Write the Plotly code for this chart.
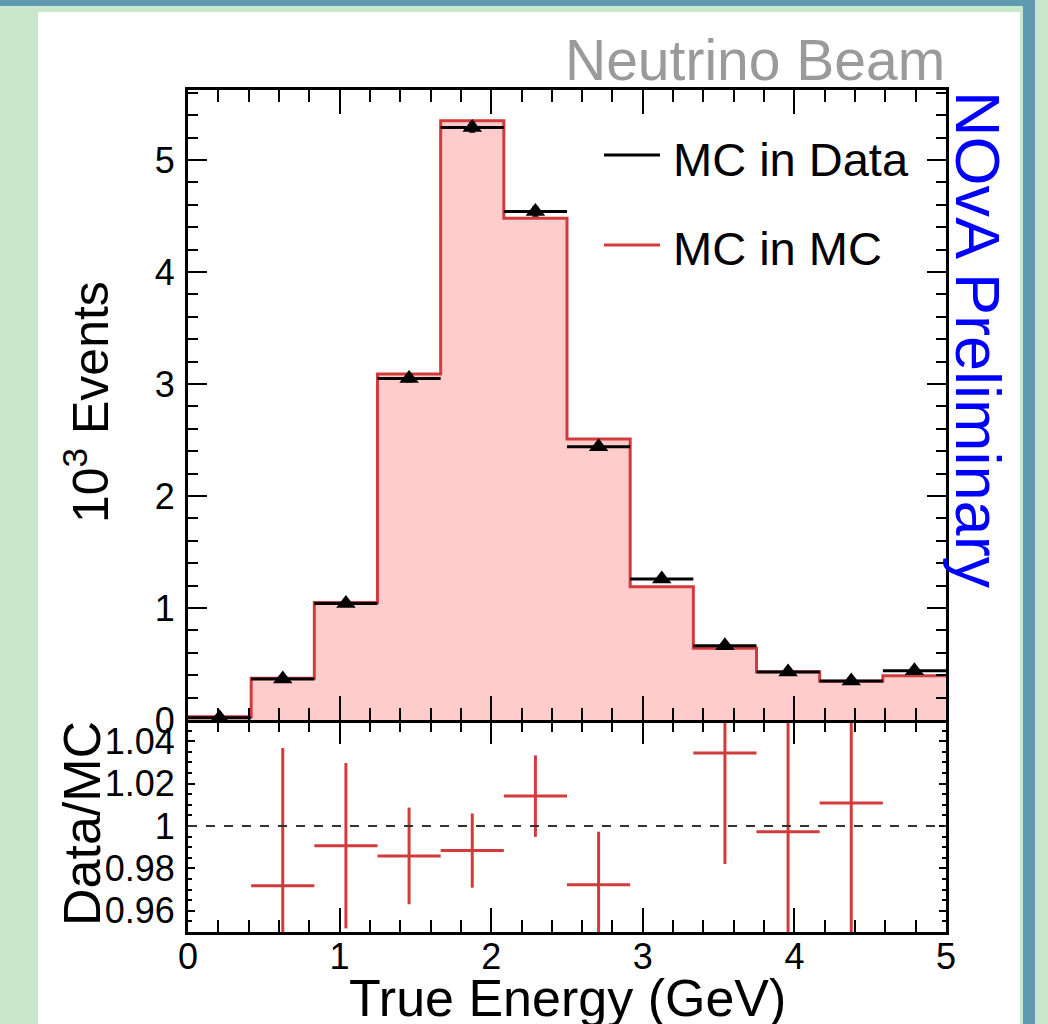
import plotly.graph_objects as go

# ---------------- data ----------------
bin_edges = [0.0, 0.4167, 0.8333, 1.25, 1.6667, 2.0833, 2.5, 2.9167,
             3.3333, 3.75, 4.1667, 4.5833, 5.0]
mc_in_mc = [0.03, 0.372, 1.05, 3.09, 5.35, 4.48, 2.51, 1.19, 0.64, 0.43, 0.345, 0.395]
mc_in_data = [0.02, 0.367, 1.04, 3.05, 5.29, 4.54, 2.44, 1.26, 0.662, 0.429, 0.349, 0.44]
mc_in_data_err = [0.01, 0.02, 0.025, 0.03, 0.04, 0.04, 0.03, 0.025, 0.02, 0.02, 0.02, 0.02]

ratio_x = [0.625, 1.0417, 1.4583, 1.875, 2.2917, 2.7083, 3.5417, 3.9583, 4.375]
ratio_val = [0.9718, 0.9907, 0.9859, 0.9884, 1.0141, 0.9723, 1.0344, 0.9973, 1.0109]
ratio_err = [0.065, 0.039, 0.0228, 0.0175, 0.0192, 0.025, 0.0523, 0.07, 0.075]

x_ticks = [0, 1, 2, 3, 4, 5]
ratio_ticks = [0.96, 0.98, 1.0, 1.02, 1.04]
ratio_tick_text = ["0.96", "0.98", "1", "1.02", "1.04"]

# ---------------- derived ----------------
centers = [(bin_edges[i] + bin_edges[i + 1]) / 2 for i in range(len(bin_edges) - 1)]
half_w = [(bin_edges[i + 1] - bin_edges[i]) / 2 for i in range(len(bin_edges) - 1)]
ratio_hw = [half_w[0]] * len(ratio_x)

W, H = 1048, 1024
def px(x):
    return x / W
def py(y):
    return 1 - y / H

RED = "#d23b3b"
FILL = "#ffcccc"
FONT = "Liberation Sans, Arial, Helvetica, sans-serif"
TICKSIZE = 36

fig = go.Figure()

fig.add_trace(go.Scatter(
    x=bin_edges, y=mc_in_mc + [mc_in_mc[-1]],
    mode="lines", line=dict(shape="hv", color=RED, width=3),
    fill="tozeroy", fillcolor=FILL,
    xaxis="x2", yaxis="y2", showlegend=False, hoverinfo="skip"))

fig.add_trace(go.Scatter(
    x=centers, y=mc_in_data, mode="markers",
    marker=dict(symbol="triangle-up", size=17, color="black", line=dict(width=0)),
    error_x=dict(type="data", array=half_w, symmetric=True, color="black",
                 thickness=3, width=0),
    error_y=dict(type="data", array=mc_in_data_err, symmetric=True, color="black",
                 thickness=1.5, width=3),
    xaxis="x2", yaxis="y2", showlegend=False))

fig.add_trace(go.Scatter(
    x=ratio_x, y=ratio_val, mode="markers",
    marker=dict(size=1, color=RED),
    error_x=dict(type="data", array=ratio_hw, symmetric=True, color=RED,
                 thickness=3, width=0),
    error_y=dict(type="data", array=ratio_err, symmetric=True, color=RED,
                 thickness=3, width=0),
    xaxis="x", yaxis="y", showlegend=False))

xl, xr = px(188), px(946)
y_split = py(720)

common_x = dict(range=[0, 5], tickvals=x_ticks, ticks="inside", ticklen=24, tickwidth=2,
                tickcolor="black", showline=True, linewidth=3, linecolor="black",
                mirror="ticks", showgrid=False, zeroline=False,
                minor=dict(dtick=0.2, tick0=0, ticks="inside", ticklen=12, tickwidth=2,
                           tickcolor="black", showgrid=False),
                tickfont=dict(family=FONT, size=TICKSIZE, color="black"))

fig.update_layout(
    width=W, height=H,
    margin=dict(l=0, r=0, t=0, b=0, autoexpand=False),
    paper_bgcolor="#c9e7ca", plot_bgcolor="white",
    font=dict(family=FONT, color="black"),
    showlegend=False,
    xaxis=dict(domain=[xl, xr], anchor="y", ticklabelstandoff=-9, **common_x),
    xaxis2=dict(domain=[xl, xr], anchor="y2", matches="x", showticklabels=False, **common_x),
    yaxis=dict(domain=[py(932), y_split], anchor="x", range=[0.95, 1.05],
               tickmode="array", tickvals=ratio_ticks, ticktext=ratio_tick_text,
               ticks="inside", ticklen=7, tickwidth=2, tickcolor="black",
               showline=True, linewidth=3, linecolor="black", mirror="ticks",
               showgrid=False, zeroline=False, ticklabelstandoff=3,
               minor=dict(tickmode="linear", dtick=0.005, tick0=0.95, ticks="inside",
                          ticklen=4, tickwidth=2, tickcolor="black", showgrid=False),
               tickfont=dict(family=FONT, size=TICKSIZE, color="black")),
    yaxis2=dict(domain=[y_split, py(90)], anchor="x2", range=[0, 5.625],
                tick0=0, dtick=1, ticks="inside", ticklen=19, tickwidth=2, tickcolor="black",
                showline=True, linewidth=3, linecolor="black", mirror="ticks",
                showgrid=False, zeroline=False, ticklabelstandoff=3,
                minor=dict(dtick=0.2, tick0=0, ticks="inside", ticklen=10, tickwidth=2,
                           tickcolor="black", showgrid=False),
                tickfont=dict(family=FONT, size=TICKSIZE, color="black")),
)

TEAL = "#5f9bb0"
shapes = [
    dict(type="rect", xref="paper", yref="paper", x0=px(38), x1=px(1020), y0=py(1024), y1=py(12),
         fillcolor="white", line=dict(width=0), layer="below"),
    dict(type="rect", xref="paper", yref="paper", x0=0, x1=px(1035), y0=py(6), y1=py(0),
         fillcolor=TEAL, line=dict(width=0), layer="below"),
    dict(type="rect", xref="paper", yref="paper", x0=px(1023), x1=px(1035), y0=0, y1=1,
         fillcolor=TEAL, line=dict(width=0), layer="below"),
    # dashed unity line
    dict(type="line", xref="x", yref="y", x0=0, x1=5, y0=1, y1=1,
         line=dict(color="#333333", width=2, dash="dash"), layer="above"),
    # legend handles
    dict(type="line", xref="paper", yref="paper", x0=px(604), x1=px(660), y0=py(155), y1=py(155),
         line=dict(color="black", width=3)),
    dict(type="line", xref="paper", yref="paper", x0=px(604), x1=px(660), y0=py(245), y1=py(245),
         line=dict(color=RED, width=3)),
]
fig.update_layout(shapes=shapes)

ann = [
    dict(text="MC in Data", x=px(671), y=py(159), xanchor="left", yanchor="middle",
         font=dict(size=47, color="black")),
    dict(text="MC in MC", x=px(671), y=py(248.5), xanchor="left", yanchor="middle",
         font=dict(size=47, color="black")),
    dict(text="Neutrino Beam", x=px(947), y=py(60), xanchor="right", yanchor="middle",
         font=dict(size=57, color="#9a9a9a")),
    dict(text="NOvA Preliminary", x=px(978), y=py(340), xanchor="center", yanchor="middle",
         textangle=90, font=dict(size=63, color="#0000ff")),
    dict(text="10<sup>3</sup> Events", x=px(87), y=py(402), xanchor="center", yanchor="middle",
         textangle=-90, font=dict(size=50, color="black")),
    dict(text="Data/MC", x=px(82), y=py(824), xanchor="center", yanchor="middle",
         textangle=-90, font=dict(size=52, color="black")),
    dict(text="True Energy (GeV)", x=px(567), y=py(998), xanchor="center", yanchor="middle",
         font=dict(size=52, color="black")),
]
for a in ann:
    a.update(xref="paper", yref="paper", showarrow=False)
    a["font"]["family"] = FONT
fig.update_layout(annotations=ann)

fig.write_html("out.html")
